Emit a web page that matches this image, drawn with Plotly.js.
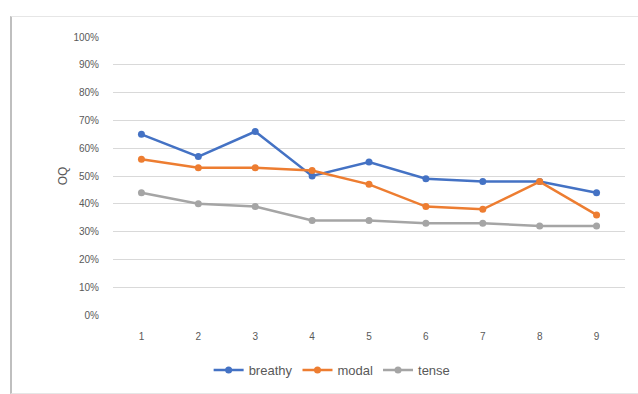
<!DOCTYPE html>
<html>
<head>
<meta charset="utf-8">
<script src="https://cdn.plot.ly/plotly-3.0.1.min.js"></script>
<style>
html,body{margin:0;padding:0;background:#fff;}
#wrap{position:absolute;left:10px;top:16px;width:640px;height:376px;border-left:2px solid #bfbfbf;border-top:1px solid #e6e6e6;border-bottom:1px solid #e6e6e6;}
#chart{position:absolute;left:0;top:0;width:638px;height:394px;}
</style>
</head>
<body>
<div id="wrap"></div>
<div id="chart"></div>
<script>
const categories = ['1','2','3','4','5','6','7','8','9'];
const breathy = [0.65, 0.57, 0.66, 0.50, 0.55, 0.49, 0.48, 0.48, 0.44];
const modal   = [0.56, 0.53, 0.53, 0.52, 0.47, 0.39, 0.38, 0.48, 0.36];
const tense   = [0.44, 0.40, 0.39, 0.34, 0.34, 0.33, 0.33, 0.32, 0.32];
const seriesNames = ['breathy', 'modal', 'tense'];
const colors = ['#4472C4', '#ED7D31', '#A5A5A5'];

const data = [breathy, modal, tense].map((v, i) => ({
  type: 'scatter',
  mode: 'lines+markers',
  x: categories,
  y: v,
  name: seriesNames[i],
  line: {color: colors[i], width: 2.5},
  marker: {color: colors[i], size: 7, symbol: 'circle'}
}));

const layout = {
  width: 638, height: 394,
  margin: {l: 113, r: 13, t: 37, b: 79, autoexpand: false},
  paper_bgcolor: 'rgba(0,0,0,0)',
  plot_bgcolor: 'rgba(0,0,0,0)',
  font: {family: 'Liberation Sans, Arial, sans-serif', color: '#595959', size: 10},
  showlegend: true,
  legend: {orientation: 'h', x: 0.428, xanchor: 'center', y: -0.198, yanchor: 'middle',
           font: {size: 13, color: '#595959'}, itemwidth: 30, tracegroupgap: 0},
  xaxis: {
    type: 'category', range: [-0.5, 8.5],
    showgrid: false, zeroline: false, showline: false,
    ticks: 'outside', ticklen: 12, tickcolor: 'rgba(0,0,0,0)',
    tickfont: {size: 10, color: '#595959'}
  },
  yaxis: {
    range: [0, 1], dtick: 0.1, tickformat: '.0%',
    showgrid: true, gridcolor: '#D9D9D9', gridwidth: 1,
    zeroline: false, showline: false,
    ticks: 'outside', ticklen: 11, tickcolor: 'rgba(0,0,0,0)',
    tickfont: {size: 10, color: '#595959'},
    title: {text: 'OQ', font: {size: 12, color: '#595959'}, standoff: 3}
  }
};

Plotly.newPlot('chart', data, layout, {displayModeBar: false, staticPlot: true});
</script>
</body>
</html>
